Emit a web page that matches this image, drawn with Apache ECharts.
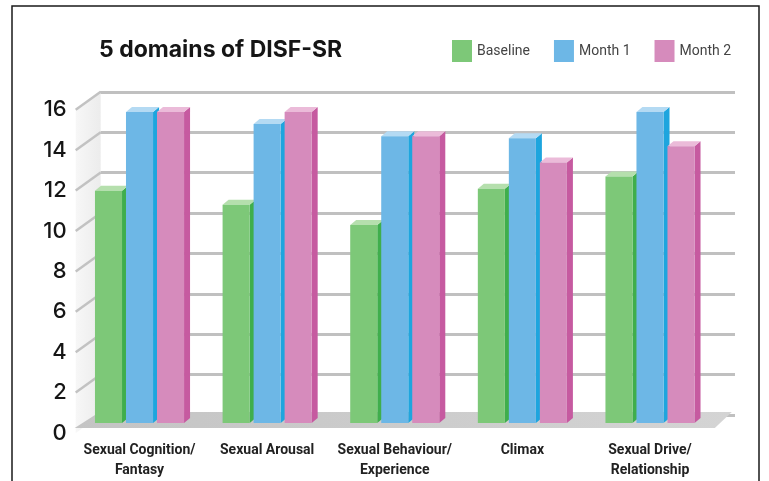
<!DOCTYPE html>
<html>
<head>
<meta charset="utf-8">
<title>5 domains of DISF-SR</title>
<script src="https://cdn.jsdelivr.net/npm/echarts@6/dist/echarts.min.js"></script>
<style>
    html, body { margin: 0; padding: 0; background: #fff; }
    #demo { width: 769px; height: 481px; }
</style>
</head>
<body>
<div id="demo"></div>
<script>
// 数据
var categories = ['Sexual Cognition/\nFantasy', 'Sexual Arousal', 'Sexual Behaviour/\nExperience', 'Climax', 'Sexual Drive/\nRelationship'];
var seriesNames = ['Baseline', 'Month 1', 'Month 2'];
var baseline = [11.5, 10.8, 9.8, 11.6, 12.2];
var month1 = [15.4, 14.8, 14.2, 14.1, 15.4];
var month2 = [15.4, 15.4, 14.2, 12.9, 13.7];
var yTicks = [0, 2, 4, 6, 8, 10, 12, 14, 16];

// 颜色: 正面 / 侧面 / 顶面
var palette = [
    { front: '#7dc878', side: '#3fae4c', top: '#b5dfad' },
    { front: '#6db7e6', side: '#1ea5de', top: '#b4daf3' },
    { front: '#d68bbc', side: '#c65aa0', top: '#ebbbd9' }
];

var FONT = "'Liberation Sans Narrow', 'Roboto', sans-serif";

/**
 * 3D柱子
 */
function renderBar(idx) {
    return function (params, api) {
        var cat = api.value(0);
        var top = api.coord([cat, api.value(1)]);
        var base = api.coord([cat, 0]);
        var band = api.size([1, 0])[0];
        var period = band * 0.243;
        var w = band * 0.212;
        var d = 6, dy = 5;
        var x0 = top[0] + (idx - 1) * period - w / 2;
        var x1 = x0 + w;
        var c = palette[idx];
        return {
            type: 'group',
            children: [
                { type: 'polygon', shape: { points: [[x1, top[1]], [x1 + d, top[1] - dy], [x1 + d, base[1] - dy], [x1, base[1]]] }, style: { fill: c.side } },
                { type: 'polygon', shape: { points: [[x0, top[1]], [x0 + d, top[1] - dy], [x1 + d, top[1] - dy], [x1, top[1]]] }, style: { fill: c.top } },
                { type: 'rect', shape: { x: x0, y: top[1], width: w, height: base[1] - top[1] }, style: { fill: c.front } }
            ]
        };
    };
}

/**
 * 地板
 */
function renderFloor(params, api) {
    var cs = params.coordSys;
    var y0 = api.coord([0, 0])[1];
    return {
        type: 'polygon',
        shape: { points: [[cs.x - 1, y0 + 5], [cs.x + cs.width + 1, y0 + 5], [cs.x + cs.width + 18, y0 - 11], [cs.x + 24, y0 - 11]] },
        style: { fill: new echarts.graphic.LinearGradient(0, 0, 1, 0, [{ offset: 0, color: '#c4c4c4' }, { offset: 1, color: '#d4d4d4' }]) }
    };
}

/**
 * 左侧墙 + 斜线
 */
function renderWall(params, api) {
    var cs = params.coordSys;
    var v = api.value(0);
    var p = api.coord([0, v]);
    var x = cs.x;
    var children = [];
    if (params.dataIndex === 0) {
        var yTop = api.coord([0, yTicks[yTicks.length - 1]])[1];
        var yBot = api.coord([0, 0])[1];
        children.push({
            type: 'polygon',
            z2: 0,
            shape: { points: [[x, yTop], [x + 25, yTop - 18], [x + 25, yBot - 18], [x, yBot]] },
            style: { fill: new echarts.graphic.LinearGradient(0, 0, 1, 0, [{ offset: 0, color: '#f7f7f7' }, { offset: 1, color: '#ececec' }]) }
        });
    }
    if (v > 0) {
        children.push({
            type: 'line',
            z2: 5,
            shape: { x1: x, y1: p[1], x2: x + 25, y2: p[1] - 18 },
            style: { stroke: '#c2c2c2', lineWidth: 2.5 }
        });
    }
    return { type: 'group', children: children };
}

var init_application = function () {
    var myChart = echarts.init(document.getElementById('demo'), null, { renderer: 'canvas' });

    var barSeries = [baseline, month1, month2].map(function (vals, i) {
        return {
            type: 'custom',
            name: seriesNames[i],
            xAxisIndex: 0,
            yAxisIndex: 0,
            z: 10 + i,
            itemStyle: { color: palette[i].front },
            renderItem: renderBar(i),
            data: vals.map(function (v, k) { return [k, v]; })
        };
    });

    var option = {
        animation: false,
        backgroundColor: '#fff',
        title: {
            text: '5 domains of DISF-SR',
            left: 94,
            top: 34,
            textStyle: { fontFamily: 'Inter', fontWeight: 'bold', fontSize: 23, color: '#151515' }
        },
        legend: {
            data: seriesNames,
            left: 447,
            top: 35,
            icon: 'rect',
            itemWidth: 20,
            itemHeight: 22,
            itemGap: 24,
            textStyle: { fontFamily: FONT, fontSize: 14, color: '#444', padding: [4, 0, 0, 0] }
        },
        graphic: [{
            type: 'rect',
            shape: { x: 12, y: 6, width: 747, height: 520 },
            style: { fill: 'none', stroke: '#1a1a1a', lineWidth: 1.5 },
            silent: true
        }],
        grid: [
            { left: 75.7, right: 55.2, top: 99.8, bottom: 58 },   // 柱子平面
            { left: 100, right: 34, top: 91.8, bottom: 66 },      // 背景墙
            { left: 75.7, right: 55.2, top: 109.8, bottom: 48 }   // 前平面（标签）
        ],
        xAxis: [
            { type: 'category', gridIndex: 0, data: categories, show: false },
            { type: 'category', gridIndex: 1, data: categories, show: false },
            {
                type: 'category', gridIndex: 2, data: categories,
                axisLine: { show: false }, axisTick: { show: false },
                axisLabel: { margin: 7, fontFamily: FONT, fontWeight: 'bold', fontSize: 14, lineHeight: 20, color: '#222', interval: 0 }
            }
        ],
        yAxis: [
            { type: 'value', gridIndex: 0, min: 0, max: 16, interval: 2, show: false },
            {
                type: 'value', gridIndex: 1, min: 0, max: 16, interval: 2,
                axisLine: { show: false }, axisTick: { show: false }, axisLabel: { show: false },
                splitLine: { show: true, lineStyle: { color: '#c0c0c0', width: 3 } }
            },
            {
                type: 'value', gridIndex: 2, min: 0, max: 16, interval: 2,
                axisLine: { show: false }, axisTick: { show: false }, splitLine: { show: false },
                axisLabel: { margin: 9, fontFamily: 'Inter', fontWeight: 500, fontSize: 22, color: '#151515' }
            }
        ],
        series: [
            {
                type: 'custom',
                name: 'wall',
                xAxisIndex: 2,
                yAxisIndex: 2,
                z: 2,
                silent: true,
                renderItem: renderWall,
                data: yTicks.map(function (v) { return [v]; })
            },
            {
                type: 'custom',
                name: 'floor',
                xAxisIndex: 0,
                yAxisIndex: 0,
                z: 3,
                silent: true,
                renderItem: renderFloor,
                data: [[0]]
            }
        ].concat(barSeries)
    };

    myChart.setOption(option);
    window.onresize = function () {
        myChart.resize();
    };
};

init_application();
</script>
</body>
</html>
